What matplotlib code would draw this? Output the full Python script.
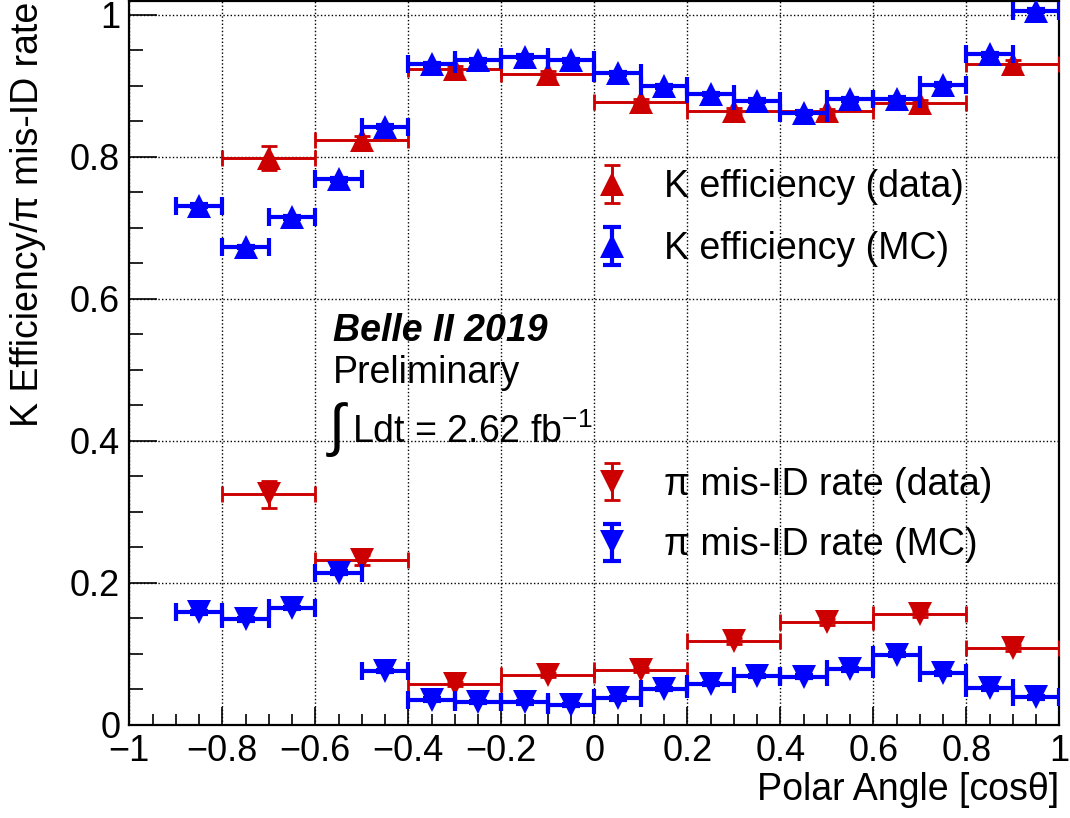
import numpy as np
import matplotlib
matplotlib.use("Agg")
import matplotlib.pyplot as plt
from matplotlib.container import ErrorbarContainer
from matplotlib.ticker import MultipleLocator, FixedLocator

plt.rcParams['font.family'] = ['Liberation Sans', 'DejaVu Sans']
plt.rcParams['mathtext.fontset'] = 'custom'
plt.rcParams['mathtext.rm'] = 'Liberation Sans'
plt.rcParams['mathtext.it'] = 'Liberation Sans:italic'
plt.rcParams['mathtext.bf'] = 'Liberation Sans:bold'

# ---- data: 0.2-wide cos(theta) bins ----
data_centers = [-0.7, -0.5, -0.3, -0.1, 0.1, 0.3, 0.5, 0.7, 0.9]
data_halfwidth = [0.1] * 9
k_eff_data = [0.798, 0.8235, 0.9235, 0.9165, 0.8775, 0.8644, 0.864, 0.8756, 0.9315]
k_eff_data_err = [0.017, 0.006, 0.004, 0.004, 0.004, 0.004, 0.004, 0.004, 0.005]
pi_misid_data = [0.3245, 0.2324, 0.0578, 0.070, 0.077, 0.118, 0.1442, 0.1555, 0.1076]
pi_misid_data_err = [0.019, 0.007, 0.003, 0.003, 0.003, 0.004, 0.004, 0.004, 0.004]

# ---- simulation: 0.1-wide cos(theta) bins ----
mc_centers = [-0.85, -0.75, -0.65, -0.55, -0.45, -0.35, -0.25, -0.15, -0.05,
              0.05, 0.15, 0.25, 0.35, 0.45, 0.55, 0.65, 0.75, 0.85, 0.95]
mc_halfwidth = [0.05] * 19
k_eff_mc = [0.731, 0.673, 0.715, 0.7686, 0.8423, 0.9306, 0.936, 0.941, 0.936,
            0.918, 0.8996, 0.8887, 0.879, 0.862, 0.881, 0.882, 0.902, 0.9446, 1.006]
k_eff_mc_err = [0.002] * 19
pi_misid_mc = [0.1583, 0.1484, 0.1644, 0.2141, 0.0756, 0.0352, 0.032, 0.0315, 0.0277,
               0.0371, 0.0503, 0.0573, 0.0686, 0.0676, 0.078, 0.0986, 0.0724, 0.0513, 0.0386]
pi_misid_mc_err = [0.002] * 19

x_ticks = [-1.0, -0.8, -0.6, -0.4, -0.2, 0.0, 0.2, 0.4, 0.6, 0.8, 1.0]
x_tick_labels = ['\u22121', '\u22120.8', '\u22120.6', '\u22120.4', '\u22120.2', '0',
                 '0.2', '0.4', '0.6', '0.8', '1']
y_ticks = [0.0, 0.2, 0.4, 0.6, 0.8, 1.0]
y_tick_labels = ['0', '0.2', '0.4', '0.6', '0.8', '1']

RED = '#cc0000'
BLUE = '#0000ff'

fig = plt.figure(figsize=(10.70, 8.18), dpi=100)
ax = fig.add_axes([0.1208, 0.1141, 0.8692, 0.8841])
ax.set_xlim(-1.0, 1.0)
ax.set_ylim(0.0, 1.019)


def draw_series(x, xhw, y, yerr, color, marker, lw, capsize, capthick, z):
    eb = ax.errorbar(x, y, xerr=xhw, yerr=yerr, fmt='none', ecolor=color,
                     elinewidth=lw, capsize=capsize, capthick=capthick, zorder=z)
    mk, = ax.plot(x, y, linestyle='none', marker=marker, markersize=17.5,
                  markerfacecolor=color, markeredgewidth=0, zorder=z + 0.5)
    return eb, mk


series = [
    (data_centers, data_halfwidth, k_eff_data, k_eff_data_err, RED, '^', 2.1, 6.0, 2.0),
    (mc_centers, mc_halfwidth, k_eff_mc, k_eff_mc_err, BLUE, '^', 3.0, 6.5, 3.0),
    (data_centers, data_halfwidth, pi_misid_data, pi_misid_data_err, RED, 'v', 2.1, 6.0, 2.0),
    (mc_centers, mc_halfwidth, pi_misid_mc, pi_misid_mc_err, BLUE, 'v', 3.0, 6.5, 3.0),
]
labels = ['K efficiency (data)', 'K efficiency (MC)',
          '\u03c0 mis-ID rate (data)', '\u03c0 mis-ID rate (MC)']

handles = []
for i, (sx, shw, sy, serr, col, mkr, lw, cs, ct) in enumerate(series):
    eb, mk = draw_series(sx, shw, sy, serr, col, mkr, lw, cs, ct, 3 + i)
    _, caps, bars = eb.lines
    handles.append(ErrorbarContainer((mk, caps, bars), has_xerr=False,
                                     has_yerr=True, label=labels[i]))

# ---- axes styling ----
ax.xaxis.set_major_locator(FixedLocator(x_ticks))
ax.set_xticklabels(x_tick_labels)
ax.xaxis.set_minor_locator(MultipleLocator(0.05))
ax.yaxis.set_major_locator(FixedLocator(y_ticks))
ax.set_yticklabels(y_tick_labels)
ax.yaxis.set_minor_locator(MultipleLocator(0.05))

ax.tick_params(axis='both', which='both', direction='in', top=False, right=False,
               labelsize=26, width=1.2, color='black')
ax.tick_params(axis='y', which='major', length=20, pad=6.5)
ax.tick_params(axis='y', which='minor', length=10)
ax.tick_params(axis='x', which='major', length=13, pad=6.5)
ax.tick_params(axis='x', which='minor', length=8)
for sp in ax.spines.values():
    sp.set_linewidth(1.6)

ax.grid(True, which='major', color='black', linestyle=(0, (1, 1.6)), linewidth=1.0)
ax.set_axisbelow(True)

ax.set_xlabel('Polar Angle [cos\u03b8]', fontsize=27, loc='right')
ax.xaxis.set_label_coords(1.0, -0.066)
ax.set_ylabel('K Efficiency/\u03c0 mis-ID rate', fontsize=27, loc='top')
ax.yaxis.set_label_coords(-0.089, 1.0)

# ---- legends ----
leg_kw = dict(frameon=False, fontsize=27, handlelength=0.8, handletextpad=1.0,
              borderpad=0, borderaxespad=0, numpoints=1,
              loc='center left', bbox_transform=fig.transFigure)
leg1 = ax.legend(handles=handles[:2], bbox_to_anchor=(597 / 1070, 1 - 218 / 818),
                 labelspacing=0.69, **leg_kw)
ax.add_artist(leg1)
ax.legend(handles=handles[2:], bbox_to_anchor=(597 / 1070, 1 - 515 / 818),
          labelspacing=0.66, **leg_kw)

# ---- experiment label ----
ax.text(0.219, 0.531, 'Belle II 2019', transform=ax.transAxes, fontsize=27,
        fontweight='bold', fontstyle='italic', ha='left', va='baseline')
ax.text(0.219, 0.4725, 'Preliminary', transform=ax.transAxes, fontsize=27,
        ha='left', va='baseline')
ax.text(0.2236, 0.408, '\u222b', transform=ax.transAxes, fontsize=42,
        ha='center', va='center')
ax.text(0.2391, 0.390, 'Ldt = 2.62 fb$^{-1}$', transform=ax.transAxes, fontsize=27,
        ha='left', va='baseline')

fig.savefig('out.png', dpi=100)
